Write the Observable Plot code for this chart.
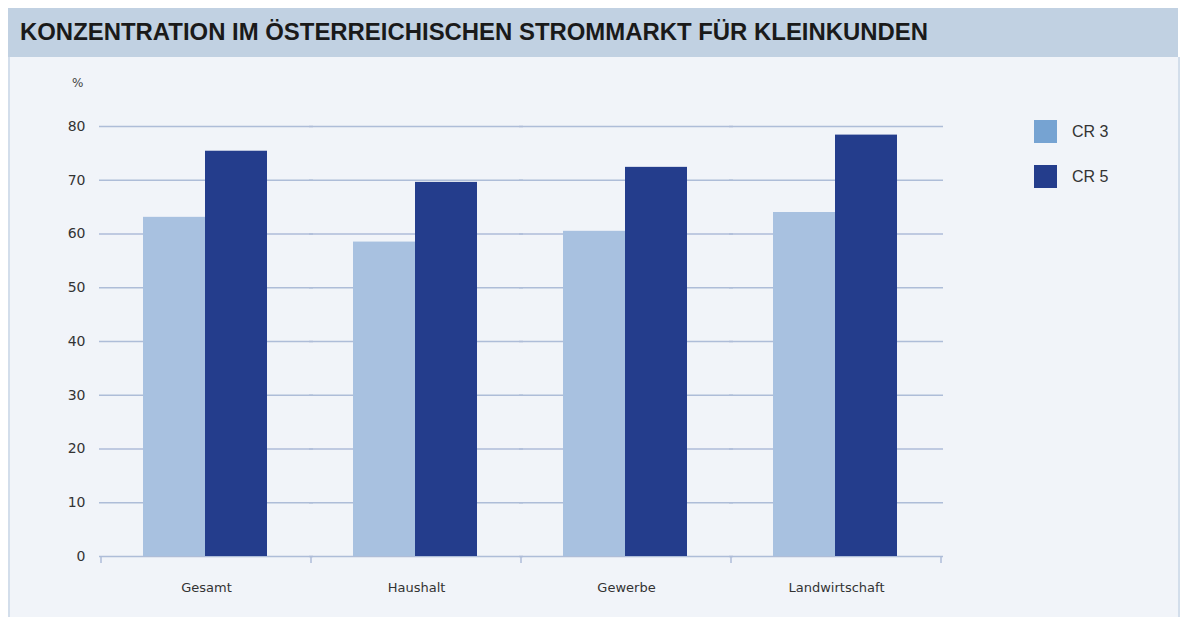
<!DOCTYPE html>
<html>
<head>
<meta charset="utf-8">
<script src="https://cdn.jsdelivr.net/npm/d3@7"></script>
<script src="https://cdn.jsdelivr.net/npm/@observablehq/plot@0.6"></script>
<style>
  html, body { margin: 0; padding: 0; background: #ffffff; }
  #page { position: relative; width: 1186px; height: 617px; overflow: hidden; font-family: "Liberation Sans", Arial, sans-serif; }
  #titlebar { position: absolute; left: 8px; top: 8px; width: 1170px; height: 49px; background: #c1d1e2; }
  #title { position: absolute; left: 12px; top: 10px; font-family: "Liberation Sans", sans-serif; font-weight: bold; font-size: 24px; color: #1a1a1a; white-space: nowrap; transform-origin: 0 0; }
  #panel { position: absolute; left: 8px; top: 57px; width: 1168px; height: 560px; background: #f1f4f9; border-left: 2px solid #d3deeb; border-right: 2px solid #d3deeb; }
  #chart { position: absolute; left: 0; top: 57px; }
  #unit { position: absolute; left: 72px; top: 76px; font-family: "DejaVu Sans", sans-serif; font-size: 12px; color: #444; }
  .leg { position: absolute; left: 1034px; display: flex; align-items: center; font-size: 16px; color: #333; }
  .sw { width: 23px; height: 23px; margin-right: 15px; }
</style>
</head>
<body>
<div id="page">
  <div id="titlebar"><div id="title">KONZENTRATION IM ÖSTERREICHISCHEN STROMMARKT FÜR KLEINKUNDEN</div></div>
  <div id="panel"></div>
  <div id="chart"></div>
  <div id="unit">%</div>
  <div id="legend"></div>
</div>
<script>
const categories = ["Gesamt", "Haushalt", "Gewerbe", "Landwirtschaft"];
const seriesNames = ["CR 3", "CR 5"];
const cr3Values = [63.1, 58.5, 60.5, 64.0];
const cr5Values = [75.4, 69.6, 72.4, 78.4];
const yTicks = [0, 10, 20, 30, 40, 50, 60, 70, 80];
const barColors = ["#a8c1e0", "#243d8c"];
const legendColors = ["#76a3d2", "#243d8c"];

const data = [];
categories.forEach((c, i) => {
  data.push({category: c, series: seriesNames[0], value: cr3Values[i]});
  data.push({category: c, series: seriesNames[1], value: cr5Values[i]});
});

// condense title to the reference width
const titleEl = document.getElementById("title");
const tw = titleEl.getBoundingClientRect().width;
titleEl.style.transform = `scaleX(${908 / tw})`;

const gridColor = "#aebdd8";

const plot = Plot.plot({
  width: 1186,
  height: 560,
  marginLeft: 100,
  marginRight: 244,
  marginTop: 69,
  marginBottom: 61,
  style: {background: "transparent", fontFamily: "'DejaVu Sans', sans-serif", color: "#333"},
  fx: {domain: categories, padding: 0, label: null},
  x: {domain: seriesNames, paddingInner: 0, paddingOuter: 0.69, align: 0.49, axis: null},
  y: {domain: [0, 80], label: null, axis: null},
  color: {domain: seriesNames, range: barColors},
  marks: [
    Plot.ruleY(yTicks, {stroke: gridColor, strokeWidth: 1.6, insetLeft: -2, insetRight: -2}),
    Plot.barY(data, {fx: "category", x: "series", y: "value", fill: "series"}),
    Plot.axisY({ticks: yTicks, tickSize: 0, tickPadding: 16, fontSize: 14, anchor: "left"}),
    Plot.axisFx({anchor: "bottom", tickSize: 0, tickPadding: 26, fontSize: 13, label: null})
  ]
});

document.getElementById("chart").appendChild(plot);

// boundary ticks on the category axis, placed via Plot's fx scale
const fx = plot.scale("fx");
const svg = d3.select(plot);
const bw = fx.bandwidth;
const bounds = categories.map(c => fx.apply(c)).concat([fx.apply(categories[categories.length - 1]) + bw]);
const yz = plot.scale("y").apply(0);
svg.append("g").selectAll("line").data(bounds).join("line")
  .attr("x1", d => d).attr("x2", d => d)
  .attr("y1", yz).attr("y2", yz + 7)
  .attr("stroke", gridColor).attr("stroke-width", 1.5);

// legend
const legend = document.getElementById("legend");
seriesNames.forEach((s, i) => {
  const row = document.createElement("div");
  row.className = "leg";
  row.style.top = (120 + i * 45) + "px";
  row.innerHTML = `<div class="sw" style="background:${legendColors[i]}"></div><span>${s}</span>`;
  legend.appendChild(row);
});
</script>
</body>
</html>
